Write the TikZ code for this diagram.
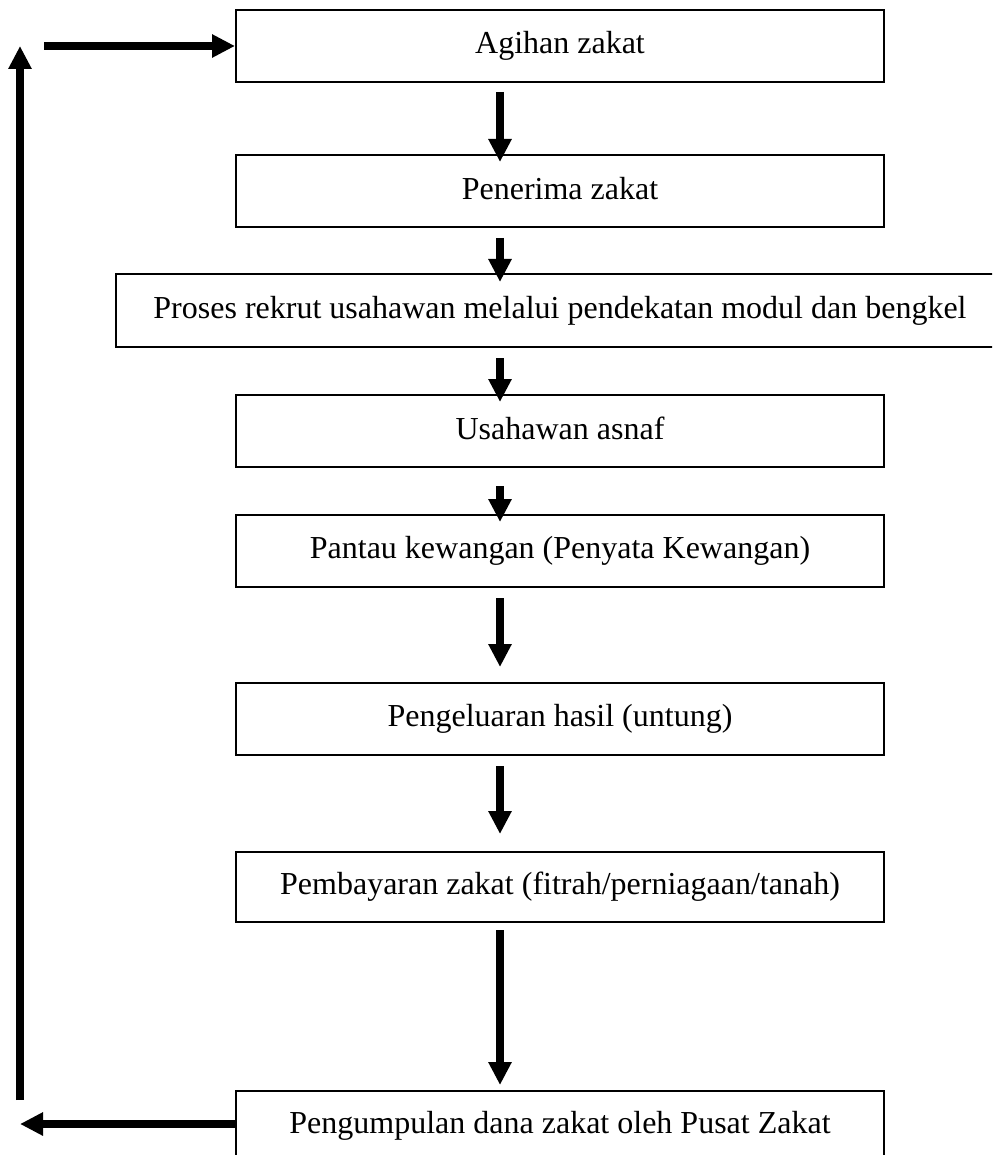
\documentclass[tikz,border=0pt]{standalone}
\usepackage{fontspec}
\setmainfont{Liberation Serif}
\usetikzlibrary{arrows.meta,calc}
\newcommand{\lift}[1]{\raisebox{5pt}{#1}}
\begin{document}
\begin{tikzpicture}[x=1pt,y=-1pt,
  txt/.style={font=\fontsize{32}{38}\selectfont,inner sep=0pt},
  box/.style={txt,draw,line width=2pt,minimum width=648pt,minimum height=72pt},
  flow/.style={line width=8pt,-{Triangle[length=23pt,width=22pt]}}]
\useasboundingbox (0,0) rectangle (992,1155);
\clip (0,0) rectangle (992,1155);
\node[box] (b1) at (560,46) {\lift{Agihan zakat}};
\node[box] (b2) at (560,191) {\lift{Penerima zakat}};
\node[box,minimum width=888pt,minimum height=73pt] (b3) at (560,310.5) {\lift{Proses rekrut usahawan melalui pendekatan modul dan bengkel}};
\node[box] (b4) at (560,431) {\lift{Usahawan asnaf}};
\node[box] (b5) at (560,551) {\lift{Pantau kewangan (Penyata Kewangan)}};
\node[box] (b6) at (560,719) {\lift{Pengeluaran hasil (untung)}};
\node[box,minimum height=70pt] (b7) at (560,887) {\lift{Pembayaran zakat (fitrah/perniagaan/tanah)}};
\node[box,minimum height=70pt] (b8) at (560,1126) {\lift{Pengumpulan dana zakat oleh Pusat Zakat}};
\draw[flow] ($(b1.south)+(-60,9)$) -- ($(b2.north)+(-60,8)$);
\draw[flow] ($(b2.south)+(-60,10)$) -- ($(b3.north)+(-60,9)$);
\draw[flow] ($(b3.south)+(-60,10)$) -- ($(b4.north)+(-60,8)$);
\draw[flow] ($(b4.south)+(-60,18)$) -- ($(b5.north)+(-60,8)$);
\draw[flow] ($(b5.south)+(-60,10)$) -- ($(b6.north)+(-60,-15)$);
\draw[flow] ($(b6.south)+(-60,10)$) -- ($(b7.north)+(-60,-17)$);
\draw[flow] ($(b7.south)+(-60,7)$) -- ($(b8.north)+(-60,-5)$);
\coordinate (lb) at (20,1100);
\coordinate (lt) at (20,46);
\coordinate (tl) at (44,46);
\coordinate (bl) at (20,1124);
\draw[flow] (lb) -- (lt);
\draw[flow] (tl) -- (b1.west);
\draw[flow] ($(b8.west)+(0,-2)$) -- (bl);
\end{tikzpicture}
\end{document}
